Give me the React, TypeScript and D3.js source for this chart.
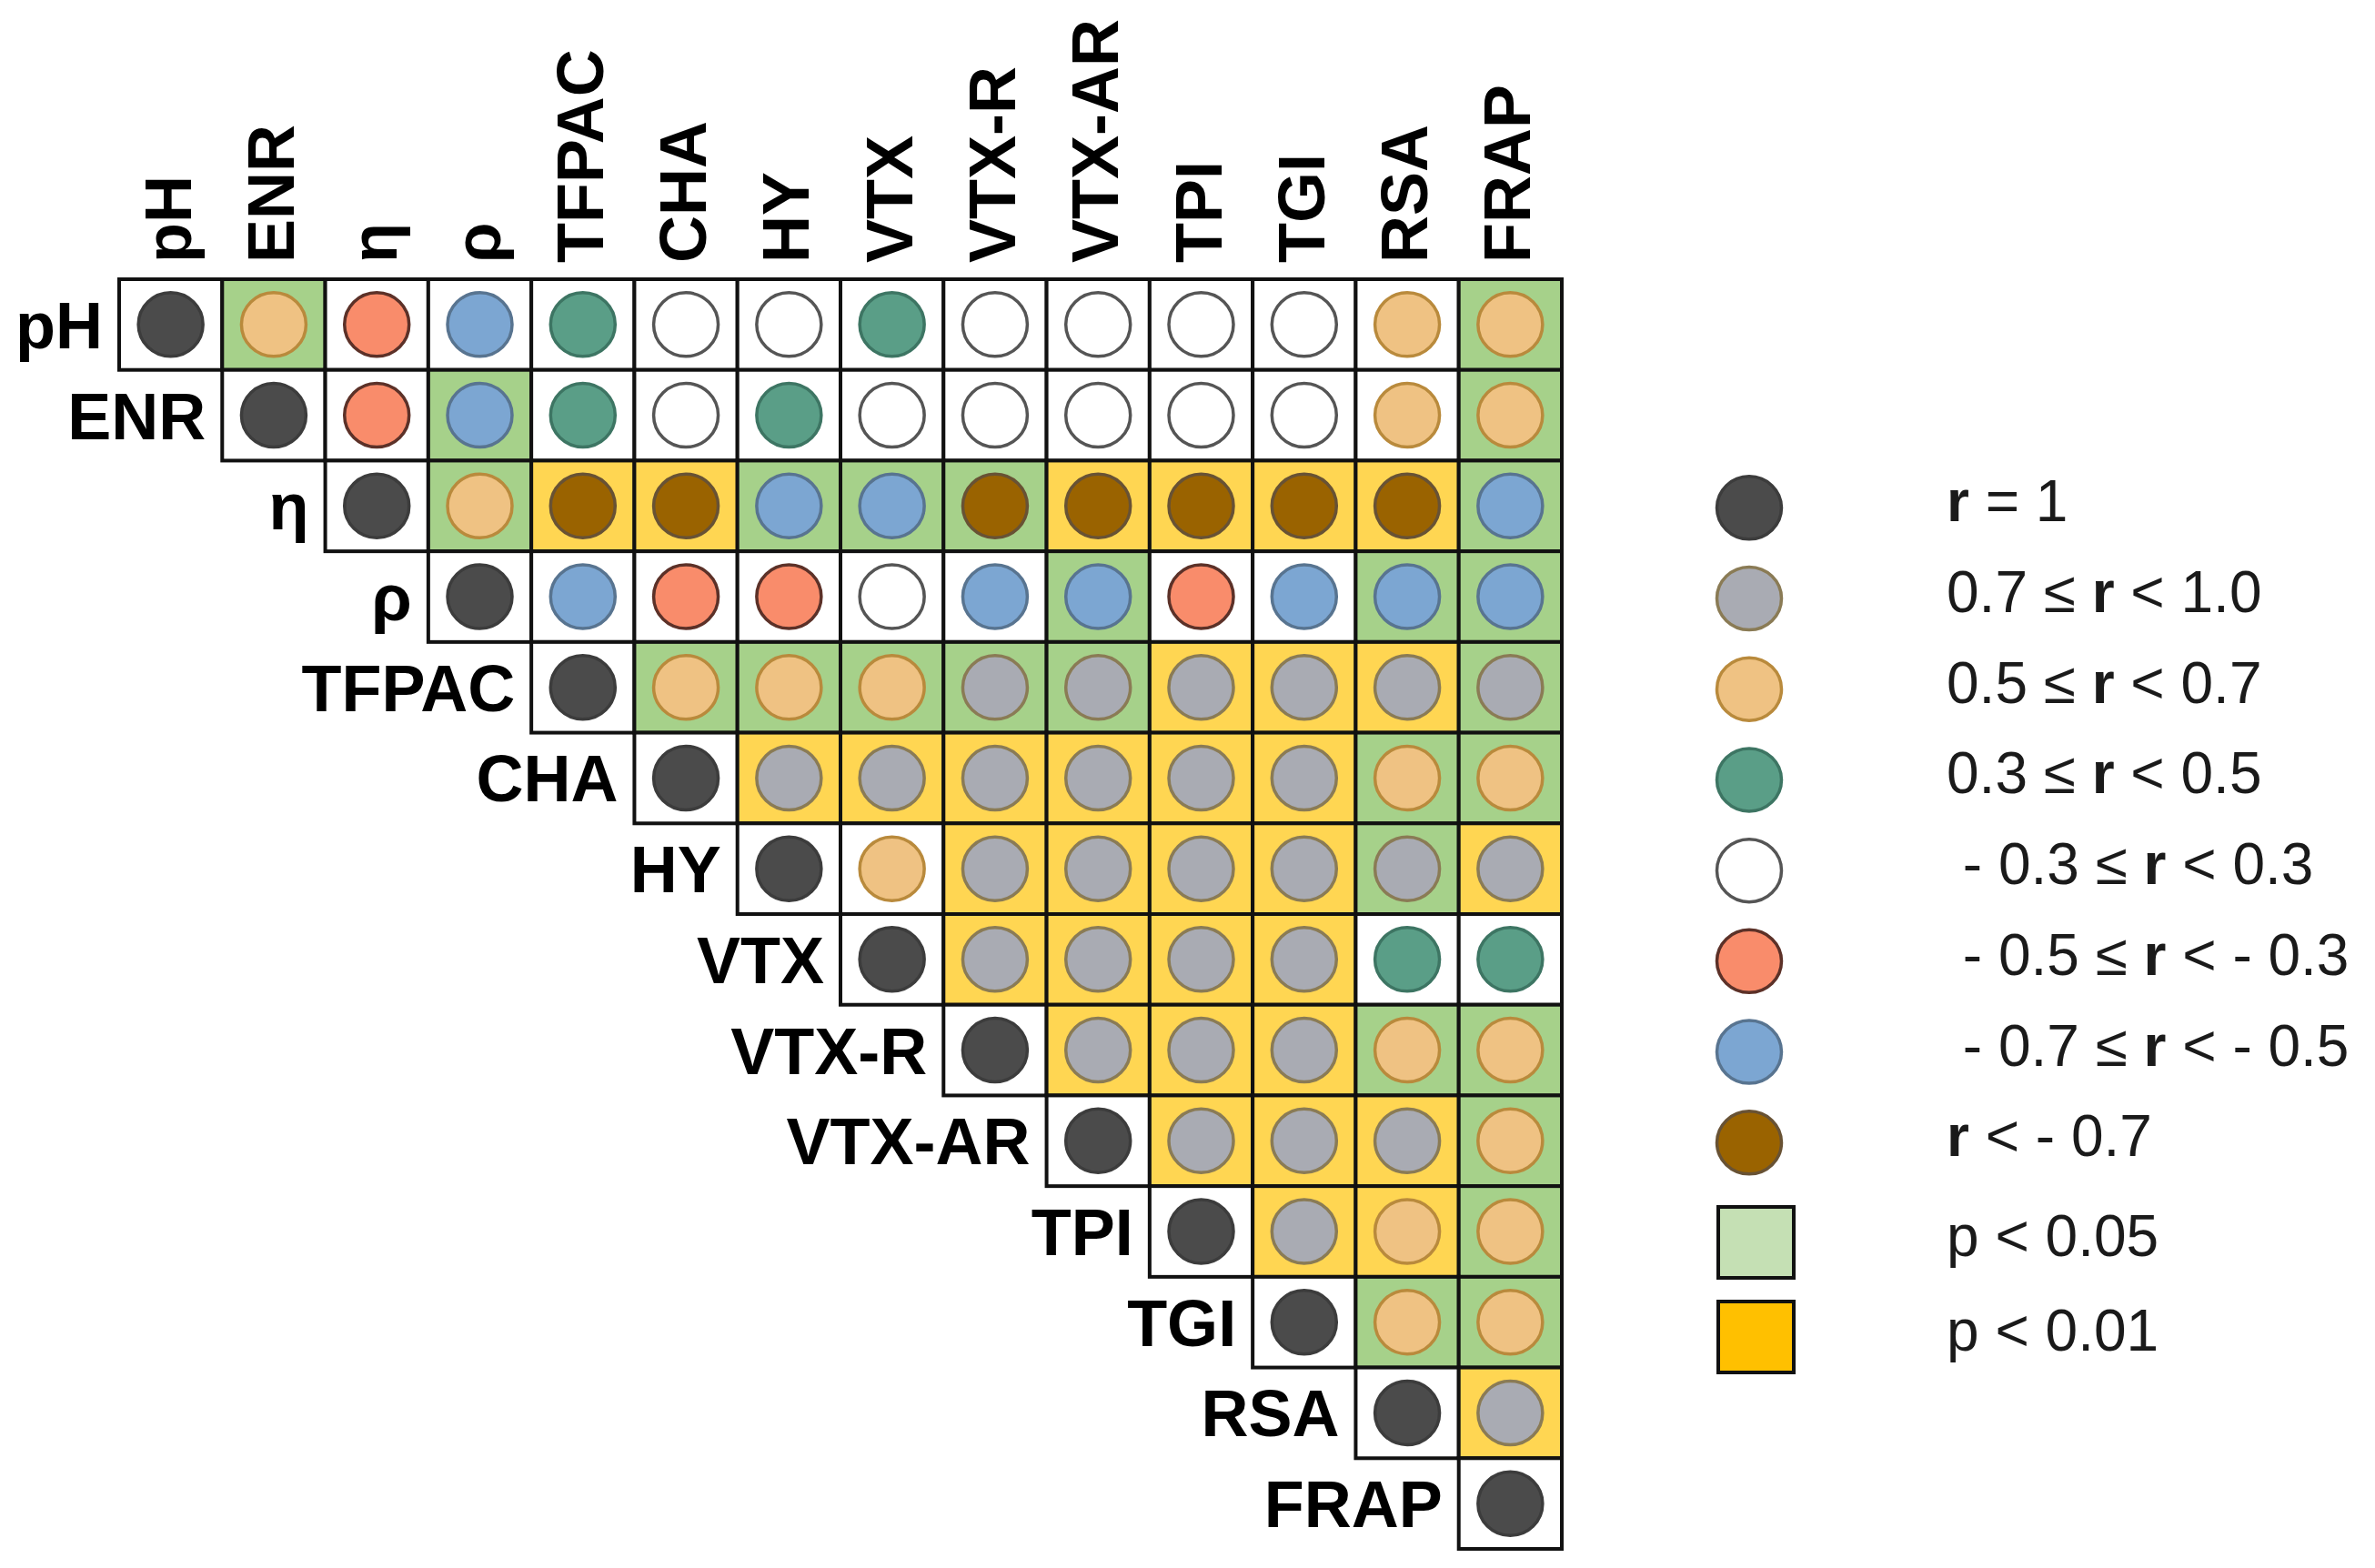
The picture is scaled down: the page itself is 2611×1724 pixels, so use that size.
import React from "react";
import * as d3 from "d3";

// ---- Data ----
const categories = ["pH", "ENR", "η", "ρ", "TFPAC", "CHA", "HY", "VTX", "VTX-R", "VTX-AR", "TPI", "TGI", "RSA", "FRAP"];

// correlation class per upper-triangle row (starting at the diagonal)
// D: r = 1, G: 0.7≤r<1, T: 0.5≤r<0.7, E: 0.3≤r<0.5, W: -0.3≤r<0.3, S: -0.5≤r<-0.3, B: -0.7≤r<-0.5, N: r<-0.7
const corrRows: string[][] = [
  ["D", "T", "S", "B", "E", "W", "W", "E", "W", "W", "W", "W", "T", "T"],
  ["D", "S", "B", "E", "W", "E", "W", "W", "W", "W", "W", "T", "T"],
  ["D", "T", "N", "N", "B", "B", "N", "N", "N", "N", "N", "B"],
  ["D", "B", "S", "S", "W", "B", "B", "S", "B", "B", "B"],
  ["D", "T", "T", "T", "G", "G", "G", "G", "G", "G"],
  ["D", "G", "G", "G", "G", "G", "G", "T", "T"],
  ["D", "T", "G", "G", "G", "G", "G", "G"],
  ["D", "G", "G", "G", "G", "E", "E"],
  ["D", "G", "G", "G", "T", "T"],
  ["D", "G", "G", "G", "T"],
  ["D", "G", "T", "T"],
  ["D", "T", "T"],
  ["D", "G"],
  ["D"],
];

// significance per cell: w none, g p<0.05, y p<0.01
const sigRows: string[][] = [
  ["w", "g", "w", "w", "w", "w", "w", "w", "w", "w", "w", "w", "w", "g"],
  ["w", "w", "g", "w", "w", "w", "w", "w", "w", "w", "w", "w", "g"],
  ["w", "g", "y", "y", "g", "g", "g", "y", "y", "y", "y", "g"],
  ["w", "w", "w", "w", "w", "w", "g", "w", "w", "g", "g"],
  ["w", "g", "g", "g", "g", "g", "y", "y", "y", "g"],
  ["w", "y", "y", "y", "y", "y", "y", "g", "g"],
  ["w", "w", "y", "y", "y", "y", "g", "y"],
  ["w", "y", "y", "y", "y", "w", "w"],
  ["w", "y", "y", "y", "g", "g"],
  ["w", "y", "y", "y", "g"],
  ["w", "y", "y", "g"],
  ["w", "g", "g"],
  ["w", "y"],
  ["w"],
];

const corrClasses = ["D", "G", "T", "E", "W", "S", "B", "N"];
const corrLabels: [string, boolean][][] = [
  [["r", true], [" = 1", false]],
  [["0.7 ≤ ", false], ["r", true], [" < 1.0", false]],
  [["0.5 ≤ ", false], ["r", true], [" < 0.7", false]],
  [["0.3 ≤ ", false], ["r", true], [" < 0.5", false]],
  [[" - 0.3 ≤ ", false], ["r", true], [" < 0.3", false]],
  [[" - 0.5 ≤ ", false], ["r", true], [" < - 0.3", false]],
  [[" - 0.7 ≤ ", false], ["r", true], [" < - 0.5", false]],
  [["r", true], [" < - 0.7", false]],
];
const sigClasses = ["g", "y"];
const sigLabels = ["p < 0.05", "p < 0.01"];

// ---- Styles ----
const circleFill: Record<string, string> = {
  D: "#4b4b4b", G: "#a9abb3", T: "#efc283", E: "#5a9e87",
  W: "#ffffff", S: "#f98c6b", B: "#7ca6d2", N: "#9a6300",
};
const circleStroke: Record<string, string> = {
  D: "#3c3c3c", G: "#8a7b55", T: "#b98a3c", E: "#3d7563",
  W: "#555555", S: "#5c3128", B: "#587490", N: "#685234",
};
const cellFill: Record<string, string> = { w: "#ffffff", g: "#a6d18a", y: "#ffd652" };
const legendSquareFill: Record<string, string> = { g: "#c5e0b4", y: "#ffc000" };

const FONT = "'Liberation Sans', Arial, sans-serif";

export default function App() {
  const W = 2611, H = 1724;
  const x = d3.scaleBand<string>().domain(categories).range([131, 1717]).padding(0);
  const y = d3.scaleBand<string>().domain(categories).range([307, 1703]).padding(0);
  const bw = x.bandwidth();
  const bh = y.bandwidth();

  const cells: { i: number; j: number; c: string; s: string }[] = [];
  corrRows.forEach((row, i) => {
    row.forEach((c, k) => {
      const j = i + k;
      cells.push({ i, j, c, s: sigRows[i][k] });
    });
  });

  const legendX = 1923;
  const legendTextX = 2140;
  const legendCircleY = (k: number) => (y(categories[k + 2]) as number) + bh / 2 + 2;
  const legendSquareY = [1366, 1470];

  return (
    <svg width={W} height={H} style={{ position: "absolute", left: 0, top: 0, background: "#fff" }}>
      <rect x={0} y={0} width={W} height={H} fill="#ffffff" />
      {/* cells */}
      <g>
        {cells.map((d) => (
          <rect
            key={`r${d.i}-${d.j}`}
            x={x(categories[d.j])}
            y={y(categories[d.i])}
            width={bw}
            height={bh}
            fill={cellFill[d.s]}
            stroke="#111"
            strokeWidth={4}
          />
        ))}
      </g>
      {/* circles */}
      <g>
        {cells.map((d) => (
          <ellipse
            key={`c${d.i}-${d.j}`}
            cx={(x(categories[d.j]) as number) + bw / 2}
            cy={(y(categories[d.i]) as number) + bh / 2}
            rx={35.5}
            ry={35}
            fill={circleFill[d.c]}
            stroke={circleStroke[d.c]}
            strokeWidth={3.5}
          />
        ))}
      </g>
      {/* column labels */}
      <g fontFamily={FONT} fontWeight="bold" fontSize={72} fill="#000">
        {categories.map((c) => {
          const cx = (x(c) as number) + bw / 2 + 22;
          const cy = 289;
          return (
            <text key={`col-${c}`} transform={`translate(${cx},${cy}) rotate(-90)`} textAnchor="start">
              {c}
            </text>
          );
        })}
      </g>
      {/* row labels */}
      <g fontFamily={FONT} fontWeight="bold" fontSize={72} fill="#000">
        {categories.map((c, i) => (
          <text
            key={`row-${c}`}
            x={(x(categories[i]) as number) - 18}
            y={(y(c) as number) + bh / 2 + 26}
            textAnchor="end"
          >
            {c}
          </text>
        ))}
      </g>
      {/* legend */}
      <g fontFamily={FONT} fontSize={64} fill="#1a1a1a">
        {corrClasses.map((c, k) => {
          const cy = legendCircleY(k);
          return (
            <g key={`lg-${c}`}>
              <ellipse cx={legendX} cy={cy} rx={35.5} ry={34.5} fill={circleFill[c]} stroke={circleStroke[c]} strokeWidth={3.5} />
              <text x={legendTextX} y={cy + 15} style={{ whiteSpace: "pre" }}>
                {corrLabels[k].map(([t, b], m) => (
                  <tspan key={m} fontWeight={b ? "bold" : "normal"}>{t}</tspan>
                ))}
              </text>
            </g>
          );
        })}
        {sigClasses.map((s, k) => {
          const cy = legendSquareY[k];
          return (
            <g key={`ls-${s}`}>
              <rect x={1889} y={cy - 39} width={83} height={78} fill={legendSquareFill[s]} stroke="#111" strokeWidth={4} />
              <text x={legendTextX} y={cy + 15}>{sigLabels[k]}</text>
            </g>
          );
        })}
      </g>
    </svg>
  );
}
